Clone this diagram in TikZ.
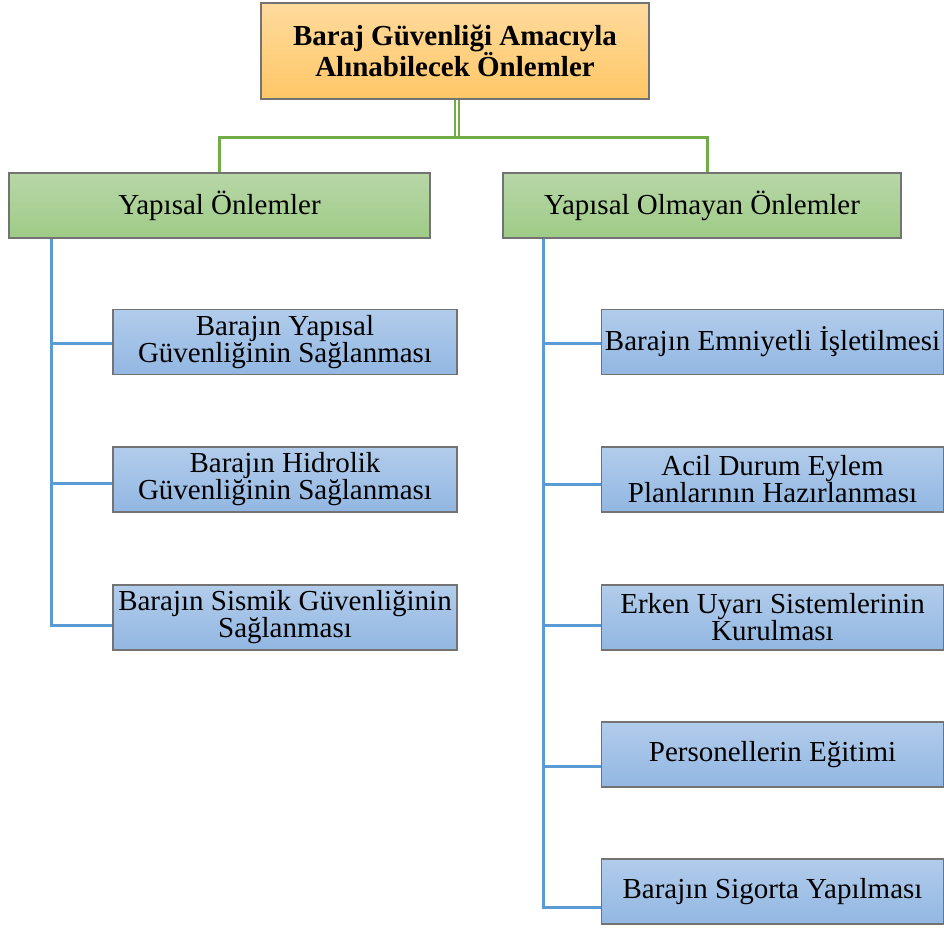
\documentclass[tikz,border=0pt]{standalone}
\usepackage{fontspec}
\setmainfont{Liberation Serif}
\definecolor{linegreen}{RGB}{112,173,71}
\definecolor{lineblue}{RGB}{91,155,213}
\definecolor{boxedge}{RGB}{115,115,115}
\begin{document}
\begin{tikzpicture}[x=1pt,y=-1pt,
  box/.style={rectangle, draw=boxedge, line width=1.1pt, inner sep=0pt,
    align=center, font=\fontsize{29}{27}\selectfont, text=black},
  rootbox/.style={box, minimum width=388pt, minimum height=96pt,
    top color={rgb,255:red,255;green,219;blue,158},
    bottom color={rgb,255:red,255;green,199;blue,102},
    font=\fontsize{29}{30}\selectfont\bfseries},
  groupbox/.style={box, minimum height=65pt,
    top color={rgb,255:red,184;green,215;blue,168},
    bottom color={rgb,255:red,158;green,203;blue,134}},
  itembox/.style={box, minimum width=342pt, minimum height=65pt,
    top color={rgb,255:red,178;green,204;blue,235},
    bottom color={rgb,255:red,146;green,183;blue,226}},
  greenline/.style={draw=linegreen, line width=3pt},
  greendouble/.style={draw=linegreen, line width=2pt, double=white, double distance=2.4pt},
  blueline/.style={draw=lineblue, line width=3pt}
]
\useasboundingbox (0,0) rectangle (944,929);

% root
\node[rootbox] (root) at (455,51) {Baraj Güvenliği Amacıyla\\Alınabilecek Önlemler};

% two groups
\node[groupbox, minimum width=421pt] (gl) at (219.5,205.5) {Yapısal Önlemler};
\node[groupbox, minimum width=398pt] (gr) at (702,205.5) {Yapısal Olmayan Önlemler};

% structural measures
\node[itembox, minimum width=344pt] (l1) at (285,342) {Barajın Yapısal\\Güvenliğinin Sağlanması};
\node[itembox, minimum width=344pt] (l2) at (285,479.5) {Barajın Hidrolik\\Güvenliğinin Sağlanması};
\node[itembox, minimum width=344pt] (l3) at (285,617.5) {Barajın Sismik Güvenliğinin\\Sağlanması};

% non-structural measures
\node[itembox] (r1) at (772.5,342) {Barajın Emniyetli İşletilmesi};
\node[itembox] (r2) at (772.5,479.5) {Acil Durum Eylem\\Planlarının Hazırlanması};
\node[itembox] (r3) at (772.5,617.5) {Erken Uyarı Sistemlerinin\\Kurulması};
\node[itembox] (r4) at (772.5,754.5) {Personellerin Eğitimi};
\node[itembox] (r5) at (772.5,891.5) {Barajın Sigorta Yapılması};

% root to groups
\coordinate (hub) at (457,137.5);
\draw[greendouble] (root.south -| hub) -- (hub);
\draw[greenline] (gl.north) |- (hub) -| ([xshift=5pt]gr.north);

% left branch
\coordinate (lv) at (51,238);
\coordinate (l1b) at ([yshift=-1pt]l1.west);
\coordinate (l2b) at ([yshift=-4pt]l2.west);
\coordinate (l3b) at ([yshift=-8pt]l3.west);
\draw[blueline] (lv |- gl.south) |- (l3b);
\draw[blueline] (l1b -| lv) -- (l1b);
\draw[blueline] (l2b -| lv) -- (l2b);

% right branch
\coordinate (rv) at (543,238);
\coordinate (r1b) at ([yshift=-1pt]r1.west);
\coordinate (r2b) at ([yshift=-5pt]r2.west);
\coordinate (r3b) at ([yshift=-8pt]r3.west);
\coordinate (r4b) at ([yshift=-11.5pt]r4.west);
\coordinate (r5b) at ([yshift=-15.5pt]r5.west);
\draw[blueline] (rv |- gr.south) |- (r5b);
\draw[blueline] (r1b -| rv) -- (r1b);
\draw[blueline] (r2b -| rv) -- (r2b);
\draw[blueline] (r3b -| rv) -- (r3b);
\draw[blueline] (r4b -| rv) -- (r4b);
\end{tikzpicture}
\end{document}
